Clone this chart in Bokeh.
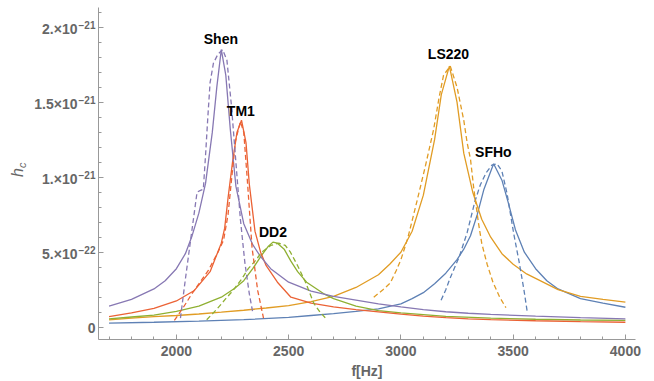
import math
from bokeh.plotting import figure
from bokeh.layouts import row
from bokeh.models import Range1d, SingleIntervalTicker, Label, CustomJSTickFormatter
from bokeh.embed import file_html
from bokeh.resources import INLINE
from bokeh.core.properties import value

# ---------------- data (f in Hz, h_c in units of 1e-22) ----------------
models = ["SFHo", "LS220", "DD2", "TM1", "Shen"]

shen_fit_f = [1700, 1800, 1900, 1950, 2000, 2040, 2070, 2100, 2130, 2160, 2180, 2200, 2220, 2240, 2265,
              2300, 2340, 2375, 2420, 2500, 2600, 2700, 2800, 2900, 3000, 3100, 3200, 3300, 3400, 3600,
              3800, 4000]
shen_fit_h = [1.40, 1.85, 2.55, 3.1, 3.9, 4.9, 6.1, 7.6, 9.6, 13.0, 16.0, 18.5, 16.8, 13.2, 9.4,
              6.9, 5.5, 4.7, 3.9, 3.0, 2.4, 2.05, 1.8, 1.55, 1.35, 1.17, 1.03, 0.93, 0.85, 0.74,
              0.64, 0.56]

tm1_fit_f = [1700, 1800, 1900, 2000, 2080, 2150, 2200, 2215, 2230, 2250, 2270, 2290, 2310, 2325, 2350,
             2375, 2400, 2450, 2510, 2600, 2700, 2800, 2900, 3000, 3100, 3200, 3300, 3400, 3600, 3800,
             4000]
tm1_fit_h = [0.70, 0.95, 1.25, 1.75, 2.45, 3.7, 5.6, 6.6, 8.6, 11.0, 13.0, 13.8, 12.3, 9.5, 6.4,
             5.0, 4.1, 3.0, 2.0, 1.6, 1.35, 1.17, 1.02, 0.87, 0.74, 0.64, 0.56, 0.50, 0.43, 0.37,
             0.33]

dd2_fit_f = [1700, 1800, 1900, 2000, 2100, 2200, 2260, 2300, 2340, 2380, 2410, 2430, 2450, 2480, 2510,
             2540, 2580, 2630, 2660, 2700, 2800, 2900, 3000, 3200, 3400, 3600, 3800, 4000]
dd2_fit_h = [0.56, 0.68, 0.80, 1.05, 1.4, 2.0, 2.6, 3.1, 3.9, 4.8, 5.4, 5.67, 5.6, 5.2, 4.4,
             3.7, 3.0, 2.5, 2.2, 1.9, 1.4, 1.1, 0.95, 0.72, 0.60, 0.53, 0.48, 0.45]

ls220_fit_f = [1700, 1800, 1900, 2000, 2100, 2200, 2300, 2400, 2500, 2600, 2700, 2800, 2900, 2950, 3000,
               3050, 3100, 3150, 3180, 3216, 3250, 3280, 3320, 3360, 3400, 3450, 3500, 3560, 3600, 3700,
               3800, 3900, 4000]
ls220_fit_h = [0.49, 0.60, 0.70, 0.78, 0.88, 1.0, 1.13, 1.28, 1.44, 1.7, 2.05, 2.65, 3.5, 4.2, 5.0,
               6.4, 8.8, 12.5, 15.5, 17.4, 15.0, 11.6, 9.0, 7.2, 6.0, 4.9, 4.2, 3.55, 3.25, 2.5,
               2.05, 1.85, 1.67]

sfho_fit_f = [1700, 1900, 2100, 2300, 2500, 2600, 2700, 2800, 2900, 3000, 3050, 3100, 3150, 3200, 3250,
              3280, 3310, 3340, 3370, 3413, 3450, 3480, 3510, 3550, 3600, 3650, 3700, 3800, 3900, 4000]
sfho_fit_h = [0.27, 0.33, 0.40, 0.50, 0.66, 0.78, 0.90, 1.05, 1.22, 1.55, 1.9, 2.3, 2.9, 3.6, 4.5,
              5.2, 6.1, 7.5, 9.2, 10.9, 9.8, 8.2, 6.5, 5.0, 3.9, 3.1, 2.55, 1.9, 1.6, 1.33]

shen_sim_f = [2018, 2040, 2065, 2092, 2105, 2120, 2130, 2140, 2150, 2165, 2185, 2206, 2225, 2245, 2265,
              2285, 2305, 2325, 2340]
shen_sim_h = [0.6, 3.2, 6.0, 9.0, 9.1, 9.2, 11.5, 14.0, 16.3, 17.6, 18.2, 18.5, 17.8, 14.8, 11.0,
              7.2, 4.3, 2.2, 1.0]

tm1_sim_f = [1991, 2030, 2068, 2105, 2143, 2185, 2210, 2230, 2248, 2263, 2285, 2300, 2315, 2337, 2362, 2388]
tm1_sim_h = [0.45, 1.3, 2.2, 3.0, 3.8, 5.0, 5.8, 7.5, 10.2, 12.4, 13.7, 13.0, 10.0, 5.3, 2.45, 0.6]

dd2_sim_f = [2135, 2180, 2220, 2255, 2290, 2320, 2350, 2380, 2420, 2456, 2485, 2508, 2540, 2575, 2612,
             2640, 2671]
dd2_sim_h = [0.5, 1.2, 1.9, 2.5, 3.2, 3.9, 4.4, 5.0, 5.45, 5.6, 5.45, 5.0, 4.1, 3.0, 1.6,
             1.0, 0.5]

ls220_sim_f = [2879, 2920, 2953, 2980, 3000, 3030, 3070, 3110, 3146, 3170, 3190, 3220, 3250, 3280, 3295,
               3310, 3325, 3345, 3360, 3384, 3410, 3440, 3468]
ls220_sim_h = [2.0, 2.5, 2.95, 3.8, 4.5, 5.9, 8.3, 10.8, 13.2, 15.3, 16.8, 17.4, 16.0, 13.8, 12.3,
               11.2, 9.2, 7.0, 5.6, 4.2, 3.0, 2.0, 1.3]

sfho_sim_f = [3179, 3200, 3220, 3260, 3295, 3330, 3354, 3380, 3405, 3428, 3450, 3473, 3503, 3526, 3548, 3563]
sfho_sim_h = [1.8, 2.5, 3.3, 4.7, 6.3, 8.4, 9.5, 10.3, 10.8, 10.9, 10.4, 8.9, 6.2, 4.4, 2.5, 1.0]

y_tick_values = [5, 10, 15, 20]
y_tick_mantissa = ["5.×10", "1.×10", "1.5×10", "2.×10"]
y_tick_exponent = ["−22", "−21", "−21", "−21"]
y_zero_label = "0"

# ---------------- styling ----------------
colors = {"SFHo": "#5E81B5", "LS220": "#E19C24", "DD2": "#8FB032", "TM1": "#EB6235", "Shen": "#8778B3"}
fits = {"SFHo": (sfho_fit_f, sfho_fit_h), "LS220": (ls220_fit_f, ls220_fit_h), "DD2": (dd2_fit_f, dd2_fit_h),
        "TM1": (tm1_fit_f, tm1_fit_h), "Shen": (shen_fit_f, shen_fit_h)}
sims = {"SFHo": (sfho_sim_f, sfho_sim_h), "LS220": (ls220_sim_f, ls220_sim_h), "DD2": (dd2_sim_f, dd2_sim_h),
        "TM1": (tm1_sim_f, tm1_sim_h), "Shen": (shen_sim_f, shen_sim_h)}

FONT = "Liberation Sans"
GRAY = "#666666"
AXIS = "#999999"

yr = Range1d(-0.82, 21.31)

# main plot
p = figure(width=557, height=381, output_backend="svg", toolbar_location=None,
           x_range=Range1d(1653, 4045), y_range=yr,
           min_border_left=1, min_border_right=19, min_border_top=7, min_border_bottom=42)
p.outline_line_color = None
p.xgrid.grid_line_color = None
p.ygrid.grid_line_color = None
p.background_fill_color = "white"
p.border_fill_color = "white"

for m in models:
    f, h = fits[m]
    p.line(f, h, line_color=colors[m], line_width=1.3)
for m in models:
    f, h = sims[m]
    p.line(f, h, line_color=colors[m], line_width=1.3, line_dash="5 3")

p.xaxis.ticker = SingleIntervalTicker(interval=500, num_minor_ticks=5)
p.yaxis.ticker = SingleIntervalTicker(interval=5, num_minor_ticks=5)
for ax in (p.xaxis, p.yaxis):
    ax.axis_line_color = AXIS
    ax.major_tick_line_color = AXIS
    ax.minor_tick_line_color = AXIS
    ax.major_tick_in = 5
    ax.major_tick_out = 0
    ax.minor_tick_in = 3
    ax.minor_tick_out = 0
    ax.major_label_text_font = FONT
    ax.major_label_text_font_style = "bold"
    ax.major_label_text_font_size = "14px"
    ax.major_label_text_color = GRAY
# y tick labels are drawn in the left strip (mantissa + raised exponent)
p.yaxis.formatter = CustomJSTickFormatter(code="return ''")
p.yaxis.major_label_standoff = 0
p.xaxis.major_label_standoff = 6
p.xaxis.axis_label = "f[Hz]"
p.xaxis.axis_label_text_font = FONT
p.xaxis.axis_label_text_font_style = "bold"
p.xaxis.axis_label_text_font_size = "14px"
p.xaxis.axis_label_text_color = GRAY
p.xaxis.axis_label_standoff = 4

for name, fx, hy in [("Shen", 2198, 19.2), ("TM1", 2287, 14.4), ("DD2", 2430, 6.33),
                     ("LS220", 3212, 18.2), ("SFHo", 3412, 11.68)]:
    p.add_layout(Label(x=fx, y=hy, text=name, text_font=FONT, text_font_style="bold",
                       text_font_size="14px", text_color="black",
                       text_align="center", text_baseline="middle"))

# left strip holding the y tick labels and the y axis title (x in pixels)
q = figure(width=97, height=381, output_backend="svg", toolbar_location=None,
           x_range=Range1d(0, 97), y_range=yr, x_axis_type=None, y_axis_type=None,
           min_border_left=0, min_border_right=0, min_border_top=7, min_border_bottom=42)
q.outline_line_color = None
q.xgrid.grid_line_color = None
q.ygrid.grid_line_color = None
q.border_fill_color = "white"

q.text(x=[77] * len(y_tick_values), y=y_tick_values, text=y_tick_mantissa,
       text_font=value(FONT), text_font_style="bold", text_font_size="14px", text_color=GRAY,
       text_align="right", text_baseline="middle", y_offset=1.5)
q.text(x=[78] * len(y_tick_values), y=y_tick_values, text=y_tick_exponent,
       text_font=value(FONT), text_font_style="bold", text_font_size="10px", text_color=GRAY,
       text_align="left", text_baseline="middle", y_offset=-2)
q.text(x=[95], y=[0], text=[y_zero_label],
       text_font=value(FONT), text_font_style="bold", text_font_size="14px", text_color=GRAY,
       text_align="right", text_baseline="middle", y_offset=0.5)
q.text(x=[17], y=[10.3], text=["h"], angle=math.pi / 2,
       text_font=value(FONT), text_font_style="italic", text_font_size="16px", text_color=GRAY,
       text_align="center", text_baseline="middle")
q.text(x=[21], y=[10.8], text=["c"], angle=math.pi / 2,
       text_font=value(FONT), text_font_style="italic", text_font_size="11px", text_color=GRAY,
       text_align="center", text_baseline="middle")

layout = row(q, p, spacing=0)
open("out.html", "w").write(file_html(layout, INLINE))
